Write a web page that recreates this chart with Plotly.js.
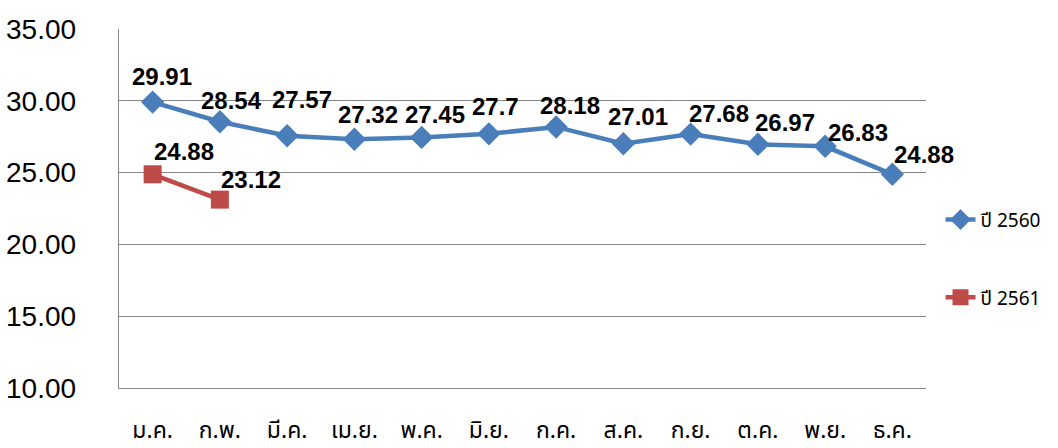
<!DOCTYPE html>
<html>
<head>
<meta charset="utf-8">
<script src="https://cdn.plot.ly/plotly-3.0.1.min.js"></script>
<style>html,body{margin:0;padding:0;background:#fff;}#chart{width:1058px;height:448px;}</style>
</head>
<body>
<div id="chart"></div>
<script>
// ---- data ----
const months = ['ม.ค.','ก.พ.','มี.ค.','เม.ย.','พ.ค.','มิ.ย.','ก.ค.','ส.ค.','ก.ย.','ต.ค.','พ.ย.','ธ.ค.'];
const seriesNames = ['ปี 2560', 'ปี 2561'];
const values2560 = [29.91, 28.54, 27.57, 27.32, 27.45, 27.7, 28.18, 27.01, 27.68, 26.97, 26.83, 24.88];
const values2561 = [24.88, 23.12];
const labels2560 = ['29.91','28.54','27.57','27.32','27.45','27.7','28.18','27.01','27.68','26.97','26.83','24.88'];
const labels2561 = ['24.88','23.12'];
const yTickVals = [10, 15, 20, 25, 30, 35];
const yTickText = ['10.00','15.00','20.00','25.00','30.00','35.00'];

// ---- label nudges (style, px) ----
const nudge2560 = [[9,26],[12,21],[15,36],[14,25],[13,23],[7,27],[14,21],[15,27],[28,21],[27,22],[33,14],[32,20]];
const nudge2561 = [[31,23],[31,20]];

const blue = '#4A7EBB';
const red = '#BE4B48';
const thaiFont = '"Noto Sans Thai", Tahoma, "Noto Sans", "DejaVu Sans", sans-serif';
const labelFont = {family: '"Liberation Sans", Arial, sans-serif', size: 24, color: '#000', weight: 'bold'};

const traces = [
  {
    x: months, y: values2560, name: seriesNames[0], type: 'scatter', mode: 'lines+markers',
    line: {color: blue, width: 4.5},
    marker: {symbol: 'diamond', size: 18, color: blue},
    legendgroup: 'a', hoverinfo: 'skip'
  },
  {
    x: months.slice(0, values2561.length), y: values2561, name: seriesNames[1], type: 'scatter', mode: 'lines+markers',
    line: {color: red, width: 4.5},
    marker: {symbol: 'square', size: 18, color: red},
    legendgroup: 'b', hoverinfo: 'skip'
  }
];

const annotations = [];
values2560.forEach((v, i) => annotations.push({
  x: months[i], y: v, text: '<b>' + labels2560[i] + '</b>', showarrow: false,
  xshift: nudge2560[i][0], yshift: nudge2560[i][1], font: labelFont
}));
values2561.forEach((v, i) => annotations.push({
  x: months[i], y: v, text: '<b>' + labels2561[i] + '</b>', showarrow: false,
  xshift: nudge2561[i][0], yshift: nudge2561[i][1], font: labelFont
}));

const layout = {
  width: 1058, height: 448,
  margin: {l: 119, r: 132, t: 29, b: 60, pad: 0},
  paper_bgcolor: '#fff', plot_bgcolor: '#fff',
  showlegend: true,
  legend: {
    x: 1.018, xanchor: 'left', y: 0.36, yanchor: 'middle',
    traceorder: 'grouped', tracegroupgap: 50,
    font: {family: thaiFont, size: 19, color: '#000'},
    bgcolor: 'rgba(0,0,0,0)'
  },
  xaxis: {
    type: 'category', range: [-0.5, 11.5], fixedrange: true,
    showgrid: false, zeroline: false,
    showline: true, linecolor: '#868686', linewidth: 1.3,
    ticks: '', ticklabelstandoff: 21,
    tickfont: {family: thaiFont, size: 23, color: '#000'}
  },
  yaxis: {
    range: [10, 35], fixedrange: true,
    tickvals: yTickVals, ticktext: yTickText,
    showgrid: true, gridcolor: '#868686', gridwidth: 1.3,
    zeroline: false,
    showline: true, linecolor: '#868686', linewidth: 1.3,
    ticks: '', ticklabelstandoff: 36,
    tickfont: {family: '"Liberation Sans", Arial, sans-serif', size: 28, color: '#000'}
  },
  annotations: annotations
};

Plotly.newPlot('chart', traces, layout, {displayModeBar: false, staticPlot: true});
</script>
</body>
</html>
